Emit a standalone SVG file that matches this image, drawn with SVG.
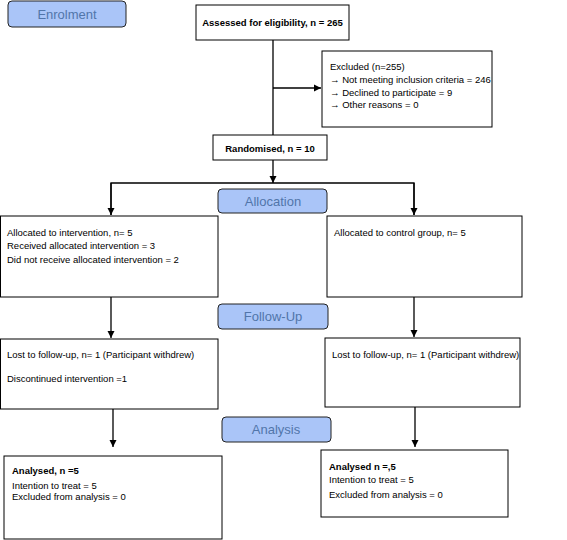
<svg xmlns="http://www.w3.org/2000/svg" width="567" height="540" viewBox="0 0 567 540">
<defs>
<marker id="ah" markerWidth="8" markerHeight="8" refX="7" refY="4" orient="auto" markerUnits="userSpaceOnUse">
<path d="M0,0.5 L7,4 L0,7.5 Z" fill="#000"/>
</marker>
<style>
.box{fill:#fff;stroke:#000;stroke-width:1}
.phase{fill:#aac5f8;stroke:#222;stroke-width:1}
.pt{font-family:"Liberation Sans",Arial,sans-serif;font-size:13px;fill:#5175aa;text-anchor:middle}
.t{font-family:"Liberation Sans",Arial,sans-serif;font-size:9.5px;fill:#000}
.b{font-weight:bold}
.c{text-anchor:middle}
.ln{stroke:#000;stroke-width:1.3;fill:none}
</style>
</defs>
<rect width="567" height="540" fill="#fff"/>
<g id="enrolment"><rect class="phase" x="8" y="1" width="118" height="26" rx="4"/><text class="pt" x="67" y="19">Enrolment</text></g>
<g id="allocation"><rect class="phase" x="218" y="189" width="109" height="24" rx="4"/><text class="pt" x="273" y="206">Allocation</text></g>
<g id="followup"><rect class="phase" x="218" y="304" width="110" height="25" rx="4"/><text class="pt" x="273" y="321">Follow-Up</text></g>
<g id="analysis"><rect class="phase" x="222" y="417" width="109" height="25" rx="4"/><text class="pt" x="276" y="434">Analysis</text></g>
<g id="connectors">
<line class="ln" x1="273" y1="40" x2="273" y2="135"/>
<line class="ln" x1="273" y1="88" x2="321" y2="88" marker-end="url(#ah)"/>
<line class="ln" x1="273" y1="160" x2="273" y2="183" marker-end="url(#ah)"/>
<polyline class="ln" points="111,215 111,183 414,183 414,215"/>
<line class="ln" x1="111" y1="183" x2="111" y2="215" marker-end="url(#ah)"/>
<line class="ln" x1="414" y1="183" x2="414" y2="215" marker-end="url(#ah)"/>
<line class="ln" x1="111" y1="297" x2="111" y2="338" marker-end="url(#ah)"/>
<line class="ln" x1="414" y1="297" x2="414" y2="337" marker-end="url(#ah)"/>
<line class="ln" x1="113" y1="409" x2="113" y2="447" marker-end="url(#ah)"/>
<line class="ln" x1="415" y1="407" x2="415" y2="447" marker-end="url(#ah)"/>
</g>
<g id="assessed"><rect class="box" x="196" y="5" width="153" height="35"/><text class="t b c" x="272.5" y="26">Assessed for eligibility, n = 265</text></g>
<g id="excluded"><rect class="box" x="322" y="51" width="170" height="76"/>
<text class="t" x="330" y="70">Excluded (n=255)</text>
<text class="t" x="330" y="83">→ Not meeting inclusion criteria = 246</text>
<text class="t" x="330" y="95.5">→ Declined to participate = 9</text>
<text class="t" x="330" y="108">→ Other reasons = 0</text></g>
<g id="randomised"><rect class="box" x="213" y="135" width="114" height="25"/><text class="t b c" x="270" y="152">Randomised, n = 10</text></g>
<g id="alloc-int"><rect class="box" x="0.5" y="216" width="217.5" height="81"/>
<text class="t" x="7" y="236">Allocated to intervention, n= 5</text>
<text class="t" x="7" y="249">Received allocated intervention = 3</text>
<text class="t" x="7" y="263">Did not receive allocated intervention = 2</text></g>
<g id="alloc-ctrl"><rect class="box" x="327" y="216" width="195" height="81"/>
<text class="t" x="334" y="236">Allocated to control group, n= 5</text></g>
<g id="fu-int"><rect class="box" x="0.5" y="339" width="217.5" height="70"/>
<text class="t" x="7" y="358">Lost to follow-up, n= 1 (Participant withdrew)</text>
<text class="t" x="7" y="382">Discontinued intervention =1</text></g>
<g id="fu-ctrl"><rect class="box" x="325" y="338" width="195" height="69"/>
<text class="t" x="332" y="358">Lost to follow-up, n= 1 (Participant withdrew)</text></g>
<g id="an-int"><rect class="box" x="4" y="456" width="218" height="83"/>
<text class="t" x="12" y="474"><tspan class="b">Analysed, n =5</tspan></text>
<text class="t" x="12" y="489">Intention to treat = 5</text>
<text class="t" x="12" y="500">Excluded from analysis = 0</text></g>
<g id="an-ctrl"><rect class="box" x="321" y="450" width="187" height="67"/>
<text class="t" x="329" y="470"><tspan class="b">Analysed n =,5</tspan></text>
<text class="t" x="329" y="482.5">Intention to treat = 5</text>
<text class="t" x="329" y="498">Excluded from analysis = 0</text></g>
</svg>
